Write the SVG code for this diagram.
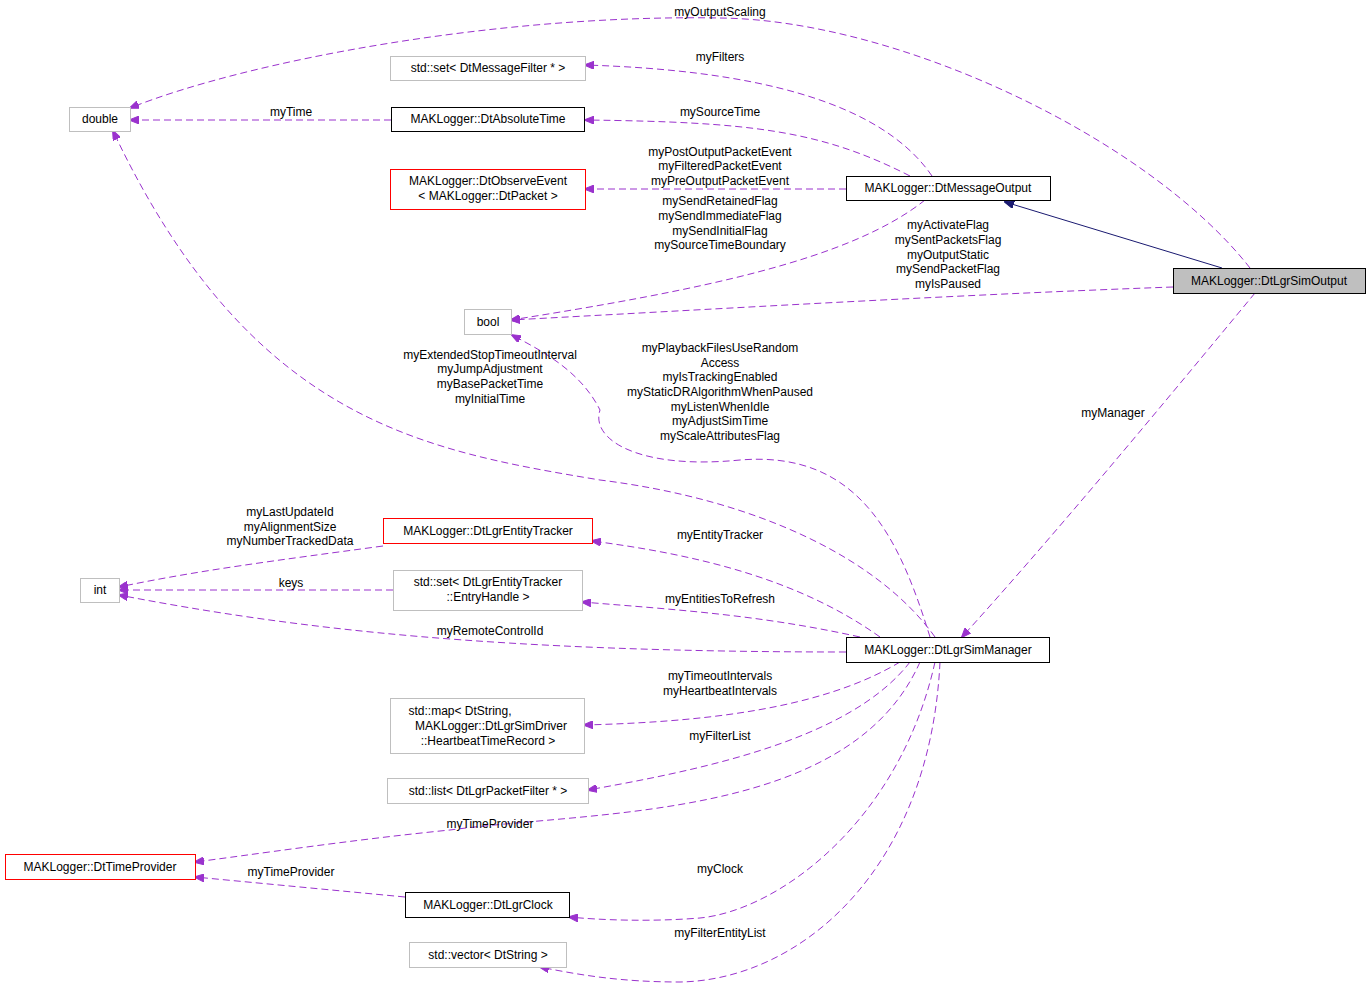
<svg xmlns="http://www.w3.org/2000/svg" width="1371" height="989" viewBox="0 0 1371 989">
<defs>
<marker id="ap" markerWidth="10" markerHeight="8" refX="9" refY="4" orient="auto" markerUnits="userSpaceOnUse"><path d="M0,0 L10,4 L0,8 z" fill="#9a32cd" stroke="#9a32cd"/></marker>
<marker id="an" markerWidth="10" markerHeight="8" refX="9" refY="4" orient="auto" markerUnits="userSpaceOnUse"><path d="M0,0 L10,4 L0,8 z" fill="#191970" stroke="#191970"/></marker>
</defs>
<style>
text{font-family:"Liberation Sans",Arial,sans-serif;font-size:12px;fill:#000;text-anchor:middle}
.g{fill:#fff;stroke:#bfbfbf}
.b{fill:#fff;stroke:#000}
.r{fill:#fff;stroke:#ff0000}
.e{fill:none;stroke:#9a32cd;stroke-dasharray:7,4;marker-end:url(#ap)}
</style>
<rect width="1371" height="989" fill="#fff"/>
<g id="edges">
<path class="e" d="M1250,268 C1150,140 900,20 720,18 C500,14 250,60 130,108"/>
<path class="e" d="M932,176 C880,100 750,70 585,65"/>
<path class="e" d="M910,176 C820,130 750,122 585,120"/>
<path class="e" d="M846,189 L585,189"/>
<path class="e" d="M925,200 C850,260 700,290 511,320"/>
<path class="e" d="M1173,287 C950,295 700,310 511,320"/>
<path d="M1222,268 L1005,202" fill="none" stroke="#191970" marker-end="url(#an)"/>
<path class="e" d="M1255,293 C1150,420 1050,540 962,637"/>
<path class="e" d="M391,120 L130,120"/>
<path class="e" d="M935,637 C880,560 760,500 600,480 C420,450 250,420 113,131"/>
<path class="e" d="M930,637 C900,540 860,450 740,460 C640,470 590,440 600,410 C580,370 540,350 512,335"/>
<path class="e" d="M880,637 C800,580 700,555 592,541"/>
<path class="e" d="M860,637 C760,615 680,610 582,602"/>
<path class="e" d="M846,652 C500,652 300,630 119,595"/>
<path class="e" d="M383,546 C280,560 200,570 119,587"/>
<path class="e" d="M393,590 L119,590"/>
<path class="e" d="M900,662 C820,710 700,722 584,725"/>
<path class="e" d="M910,662 C850,740 700,770 588,790"/>
<path class="e" d="M920,662 C850,820 600,810 450,830 C350,840 250,855 195,862"/>
<path class="e" d="M405,897 L195,877"/>
<path class="e" d="M935,662 C900,820 780,910 700,918 C650,922 600,920 569,917"/>
<path class="e" d="M940,662 C930,870 800,980 680,982 C620,982 580,975 540,967"/>
</g>
<g id="labels">
<text x="720" y="16">myOutputScaling</text>
<text x="720" y="61">myFilters</text>
<text x="720" y="116">mySourceTime</text>
<text x="720" y="156">myPostOutputPacketEvent</text>
<text x="720" y="170">myFilteredPacketEvent</text>
<text x="720" y="185">myPreOutputPacketEvent</text>
<text x="720" y="205">mySendRetainedFlag</text>
<text x="720" y="220">mySendImmediateFlag</text>
<text x="720" y="235">mySendInitialFlag</text>
<text x="720" y="249">mySourceTimeBoundary</text>
<text x="948" y="229">myActivateFlag</text>
<text x="948" y="244">mySentPacketsFlag</text>
<text x="948" y="259">myOutputStatic</text>
<text x="948" y="273">mySendPacketFlag</text>
<text x="948" y="288">myIsPaused</text>
<text x="1113" y="417">myManager</text>
<text x="291" y="116">myTime</text>
<text x="490" y="359">myExtendedStopTimeoutInterval</text>
<text x="490" y="373">myJumpAdjustment</text>
<text x="490" y="388">myBasePacketTime</text>
<text x="490" y="403">myInitialTime</text>
<text x="720" y="352">myPlaybackFilesUseRandom</text>
<text x="720" y="367">Access</text>
<text x="720" y="381">myIsTrackingEnabled</text>
<text x="720" y="396">myStaticDRAlgorithmWhenPaused</text>
<text x="720" y="411">myListenWhenIdle</text>
<text x="720" y="425">myAdjustSimTime</text>
<text x="720" y="440">myScaleAttributesFlag</text>
<text x="720" y="539">myEntityTracker</text>
<text x="720" y="603">myEntitiesToRefresh</text>
<text x="490" y="635">myRemoteControlId</text>
<text x="290" y="516">myLastUpdateId</text>
<text x="290" y="531">myAlignmentSize</text>
<text x="290" y="545">myNumberTrackedData</text>
<text x="291" y="587">keys</text>
<text x="720" y="680">myTimeoutIntervals</text>
<text x="720" y="695">myHeartbeatIntervals</text>
<text x="720" y="740">myFilterList</text>
<text x="490" y="828">myTimeProvider</text>
<text x="291" y="876">myTimeProvider</text>
<text x="720" y="873">myClock</text>
<text x="720" y="937">myFilterEntityList</text>
</g>
<g id="double"><rect class="g" x="69.5" y="107.5" width="61" height="24"/><text x="100" y="123">double</text></g>
<g id="setfilter"><rect class="g" x="390.5" y="56.5" width="195" height="24"/><text x="488" y="72">std::set&lt; DtMessageFilter * &gt;</text></g>
<g id="abstime"><rect class="b" x="391.5" y="107.5" width="193" height="24"/><text x="488" y="123">MAKLogger::DtAbsoluteTime</text></g>
<g id="observe"><rect class="r" x="390.5" y="169.5" width="195" height="40"/><text x="488" y="185">MAKLogger::DtObserveEvent</text><text x="488" y="200">&lt; MAKLogger::DtPacket &gt;</text></g>
<g id="msgout"><rect class="b" x="846.5" y="176.5" width="204" height="24"/><text x="948" y="192">MAKLogger::DtMessageOutput</text></g>
<g id="simout"><rect fill="#bfbfbf" stroke="#000" x="1173.5" y="268.5" width="192" height="25"/><text x="1269" y="285">MAKLogger::DtLgrSimOutput</text></g>
<g id="bool"><rect class="g" x="464.5" y="309.5" width="47" height="25"/><text x="488" y="326">bool</text></g>
<g id="tracker"><rect class="r" x="383.5" y="518.5" width="209" height="25"/><text x="488" y="535">MAKLogger::DtLgrEntityTracker</text></g>
<g id="int"><rect class="g" x="80.5" y="578.5" width="39" height="24"/><text x="100" y="594">int</text></g>
<g id="setentry"><rect class="g" x="393.5" y="570.5" width="189" height="40"/><text x="488" y="586">std::set&lt; DtLgrEntityTracker</text><text x="488" y="601">::EntryHandle &gt;</text></g>
<g id="simmgr"><rect class="b" x="846.5" y="637.5" width="203" height="25"/><text x="948" y="654">MAKLogger::DtLgrSimManager</text></g>
<g id="map"><rect class="g" x="390.5" y="698.5" width="194" height="55"/><text x="460" y="715">std::map&lt; DtString,</text><text x="491" y="730">MAKLogger::DtLgrSimDriver</text><text x="488" y="745">::HeartbeatTimeRecord &gt;</text></g>
<g id="list"><rect class="g" x="387.5" y="778.5" width="201" height="25"/><text x="488" y="795">std::list&lt; DtLgrPacketFilter * &gt;</text></g>
<g id="timeprov"><rect class="r" x="5.5" y="854.5" width="190" height="25"/><text x="100" y="871">MAKLogger::DtTimeProvider</text></g>
<g id="clock"><rect class="b" x="405.5" y="892.5" width="164" height="25"/><text x="488" y="909">MAKLogger::DtLgrClock</text></g>
<g id="vector"><rect class="g" x="409.5" y="942.5" width="157" height="25"/><text x="488" y="959">std::vector&lt; DtString &gt;</text></g>
</svg>
